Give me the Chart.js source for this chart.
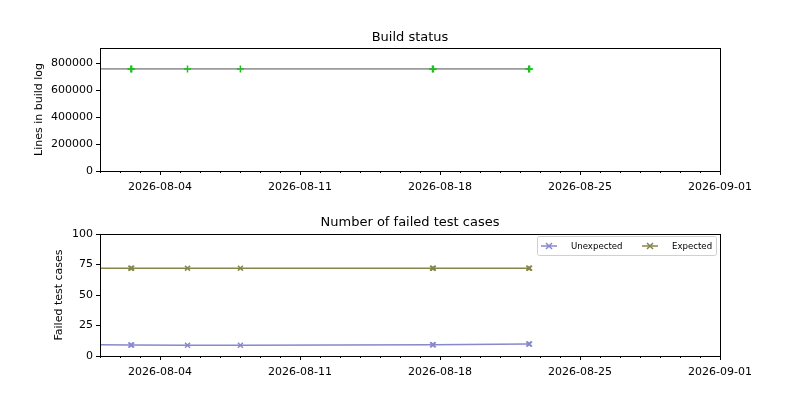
<!DOCTYPE html>
<html>
<head>
<meta charset="utf-8">
<script src="https://cdn.jsdelivr.net/npm/chart.js@4/dist/chart.umd.min.js"></script>
<style>
  html, body { margin: 0; padding: 0; background: #fff; }
  .box { width: 800px; height: 200px; position: relative; }
</style>
</head>
<body>
<div class="box"><canvas id="buildChart" width="800" height="200"></canvas></div>
<div class="box"><canvas id="testChart" width="800" height="200"></canvas></div>
<script>
(function () {
    "use strict";

    // build times (UTC), first one lies before the visible range
    var buildDates = ["2026-07-30T12:00", "2026-08-02T13:00", "2026-08-02T14:00", "2026-08-05T09:00",
        "2026-08-08T00:30", "2026-08-17T15:00", "2026-08-17T16:00", "2026-08-22T10:30", "2026-08-22T11:30"];
    var logLines = [757000, 757000, 757000, 757000, 757000, 757000, 757000, 757000, 757000];
    var unexpectedFails = [9.5, 9, 9, 8.8, 8.8, 9.2, 9.2, 9.8, 9.8];
    var expectedFails = [72, 72, 72, 72, 72, 72, 72, 72, 72];
    var xLabels = ["2026-08-04", "2026-08-11", "2026-08-18", "2026-08-25", "2026-09-01"];
    var xStart = "2026-08-01", xEnd = "2026-09-01";
    var logTicks = [0, 200000, 400000, 600000, 800000];
    var failTicks = [0, 25, 50, 75, 100];

    var DAY = 86400000;
    function ms(s) { return new Date(s.length > 10 ? s + "Z" : s + "T00:00Z").getTime(); }
    function iso(v) { return new Date(v).toISOString().slice(0, 10); }
    function pts(ys) {
        return buildDates.map(function (d, i) { return { x: ms(d), y: ys[i] }; });
    }
    var majorMs = xLabels.map(ms);

    Chart.defaults.font.family = "'DejaVu Sans', sans-serif";
    Chart.defaults.color = "#000";
    Chart.defaults.animation = false;

    // black frame round the plot area (like matplotlib spines) and the title above it
    var frame = {
        id: "frame",
        afterDraw: function (chart, args, opts) {
            var a = chart.chartArea, c = chart.ctx;
            c.save();
            c.strokeStyle = "#000";
            c.lineWidth = 1;
            c.strokeRect(Math.round(a.left) + 0.5, Math.round(a.top) + 0.5,
                Math.round(a.right - a.left), Math.round(a.bottom - a.top));
            // short minor ticks for days
            var sx = chart.scales.x;
            sx.ticks.forEach(function (t) {
                if (majorMs.indexOf(t.value) >= 0) return;
                var px = Math.round(sx.getPixelForValue(t.value)) + 0.5;
                c.beginPath();
                c.moveTo(px, Math.round(a.bottom));
                c.lineTo(px, Math.round(a.bottom) + 2);
                c.stroke();
            });
            c.fillStyle = "#000";
            c.font = "13px 'DejaVu Sans'";
            c.textAlign = "center";
            c.textBaseline = "middle";
            c.fillText(opts.text, (a.left + a.right) / 2, opts.y);
            c.restore();
        }
    };

    // matplotlib style legend box in the upper right corner
    var cornerLegend = {
        id: "cornerLegend",
        afterDraw: function (chart) {
            var a = chart.chartArea, c = chart.ctx;
            var x0 = a.right - 183, y0 = a.top + 2, w = 179, h = 19;
            c.save();
            c.fillStyle = "rgba(255,255,255,0.8)";
            c.strokeStyle = "#d0d0d0";
            c.lineWidth = 1;
            c.beginPath();
            c.roundRect(x0 + 0.5, y0 + 0.5, w, h, 2);
            c.fill();
            c.stroke();
            c.font = "8.6px 'DejaVu Sans'";
            c.textBaseline = "middle";
            var offs = [4, 105];
            chart.data.datasets.forEach(function (ds, i) {
                var lx = x0 + offs[i], ly = y0 + 10;
                c.strokeStyle = ds.borderColor;
                c.lineWidth = 1.5;
                c.beginPath();
                c.moveTo(lx, ly);
                c.lineTo(lx + 16, ly);
                c.stroke();
                c.beginPath();
                c.moveTo(lx + 5, ly - 3); c.lineTo(lx + 11, ly + 3);
                c.moveTo(lx + 11, ly - 3); c.lineTo(lx + 5, ly + 3);
                c.stroke();
                c.fillStyle = "#000";
                c.fillText(ds.label, lx + 30, ly + 0.5);
            });
            c.restore();
        }
    };

    function xAxis(height) {
        return {
            type: "linear",
            min: ms(xStart),
            max: ms(xEnd),
            afterBuildTicks: function (scale) {
                var t = [];
                for (var v = ms(xStart); v <= ms(xEnd); v += DAY) t.push({ value: v });
                scale.ticks = t;
            },
            afterFit: function (scale) { scale.height = height; },
            border: { display: false },
            grid: {
                drawOnChartArea: false,
                tickLength: 4,
                tickColor: function (ctx) {
                    return ctx.tick && majorMs.indexOf(ctx.tick.value) >= 0 ? "#000" : "rgba(0,0,0,0)";
                }
            },
            ticks: {
                autoSkip: false,
                maxRotation: 0,
                padding: 6,
                font: { size: 11 },
                callback: function (v) { return majorMs.indexOf(v) >= 0 ? iso(v) : ""; }
            }
        };
    }

    function yAxis(max, tickVals, title, titlePad) {
        return {
            min: 0,
            max: max,
            afterBuildTicks: function (scale) {
                scale.ticks = tickVals.map(function (v) { return { value: v }; });
            },
            afterFit: function (scale) { scale.width = 100; },
            border: { display: false },
            grid: { drawOnChartArea: false, tickLength: 4, tickColor: "#000" },
            ticks: { padding: 3, font: { size: 11 }, callback: function (v) { return String(v); } },
            title: { display: true, text: title, font: { size: 11 }, padding: { top: titlePad, bottom: 0 } }
        };
    }

    new Chart(document.getElementById("buildChart"), {
        type: "line",
        data: {
            datasets: [{
                label: "Lines in build log",
                data: pts(logLines),
                borderColor: "#9a9a9a",
                borderWidth: 1.8,
                pointStyle: "cross",
                pointRadius: 3.5,
                pointBorderWidth: 1.5,
                pointBorderColor: "#1fbf1f",
                pointBackgroundColor: "#1fbf1f",
                tension: 0,
                clip: 0
            }]
        },
        options: {
            responsive: false,
            devicePixelRatio: 1,
            layout: { padding: { left: 0, right: 80, top: 48, bottom: 0 } },
            plugins: { legend: { display: false }, tooltip: { enabled: false },
                frame: { text: "Build status", y: 37.5 } },
            scales: { x: xAxis(29), y: yAxis(912000, logTicks, "Lines in build log", 33) }
        },
        plugins: [frame]
    });

    new Chart(document.getElementById("testChart"), {
        type: "line",
        data: {
            datasets: [{
                label: "Unexpected",
                data: pts(unexpectedFails),
                borderColor: "#8888cc",
                pointBorderColor: "#8888cc",
                borderWidth: 1.5,
                pointStyle: "crossRot",
                pointRadius: 3.5,
                pointBorderWidth: 1.5,
                tension: 0,
                clip: 0
            }, {
                label: "Expected",
                data: pts(expectedFails),
                borderColor: "#84864a",
                pointBorderColor: "#84864a",
                borderWidth: 1.5,
                pointStyle: "crossRot",
                pointRadius: 3.5,
                pointBorderWidth: 1.5,
                tension: 0,
                clip: 0
            }]
        },
        options: {
            responsive: false,
            devicePixelRatio: 1,
            layout: { padding: { left: 0, right: 80, top: 34, bottom: 0 } },
            plugins: { legend: { display: false }, tooltip: { enabled: false },
                frame: { text: "Number of failed test cases", y: 22.5 } },
            scales: { x: xAxis(44), y: yAxis(100, failTicks, "Failed test cases", 53) }
        },
        plugins: [frame, cornerLegend]
    });
})();
</script>
</body>
</html>
